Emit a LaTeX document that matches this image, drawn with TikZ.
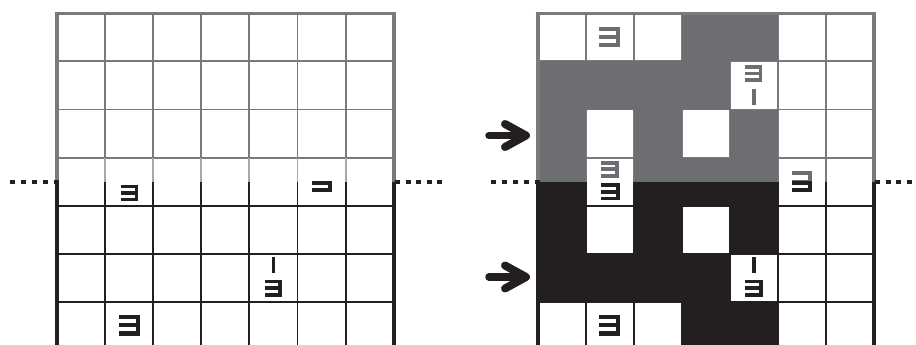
\documentclass[tikz,border=0pt]{standalone}
\definecolor{gfill}{HTML}{6D6E71}
\definecolor{gline}{HTML}{7A7A7A}
\definecolor{glight}{HTML}{A8A8A8}
\definecolor{blk}{HTML}{231F20}
\newcommand{\glyphthree}[6]{%
  \fill[#6] (#1,#2) rectangle ++(#3,#5);
  \fill[#6] (#1,{#2+(#4-#5)/2}) rectangle ++(#3,#5);
  \fill[#6] (#1,{#2+#4-#5}) rectangle ++(#3,#5);
  \fill[#6] ({#1+#3-#5},#2) rectangle ++(#5,#4);}
\newcommand{\glyphone}[5]{\fill[#5] (#1,#2) rectangle ++(#3,#4);}
\newcommand{\foldthree}[2]{%
  \fill[#2] (#1,170.5) rectangle ++(20,4.2);
  \fill[#2] (#1,180.3) rectangle ++(20,4.2);
  \fill[#2] (#1,187.6) rectangle ++(20,4.2);
  \fill[#2] ({#1+15.8},170.5) rectangle ++(4.2,21.3);}
\newcommand{\drawgridlines}[2]{%
  \foreach \kk in {1,2,3} \draw[innerline, gline] (#1,{13.3+\kk*48.1}) -- ++(336.7,0);
  \foreach \kk in {4,5,6} \draw[innerline, blk] (#1,{13.3+\kk*48.1}) -- ++(336.7,0);
  \foreach \cc in {1,...,6} {
    \draw[innerline, gline] ({#1+\cc*48.1},13.3) -- ({#1+\cc*48.1},157.6);
    \draw[innerline, #2] ({#1+\cc*48.1},157.6) -- ({#1+\cc*48.1},181.5);
    \draw[innerline, blk] ({#1+\cc*48.1},181.5) -- ({#1+\cc*48.1},347);
  }}
\newcommand{\drawgridborder}[1]{%
  \draw[outerline, gline, line width=3.4pt] ({#1-2},13.3) -- ({#1+338.7},13.3);
  \draw[outerline, gline] (#1,13.3) -- (#1,181.5);
  \draw[outerline, gline] ({#1+336.7},13.3) -- ({#1+336.7},181.5);
  \draw[outerline, blk] (#1,181.5) -- (#1,347);
  \draw[outerline, blk] ({#1+336.7},181.5) -- ({#1+336.7},347);}
\begin{document}
\begin{tikzpicture}[x=1pt,y=-1pt,
  innerline/.style={line width=1.9pt},
  outerline/.style={line width=4pt},
  foldline/.style={blk, line width=4pt},
  arrowshaft/.style={blk, line width=7.5pt, line cap=round},
  arrowhead/.style={blk, line width=8pt, line cap=round, line join=round}]
\useasboundingbox (0,0) rectangle (916,345);

% ---------- left grid ----------
\drawgridlines{57}{glight}
\drawgridborder{57}

% ---------- right grid ----------
\drawgridlines{537.5}{gline}
\foreach \cc/\rr in {4/1,5/1,1/2,2/2,3/2,4/2,1/3,3/3,5/3}
  \fill[gfill] ({537.5+(\cc-1)*48.1},{13.3+(\rr-1)*48.1}) rectangle ++(48.1,48.1);
\foreach \cc in {1,3,4,5} {
  \fill[gfill] ({537.5+(\cc-1)*48.1},157.6) rectangle ++(48.1,23.9);
  \fill[blk] ({537.5+(\cc-1)*48.1},181.5) rectangle ++(48.1,24.2);
}
\foreach \cc/\rr in {1/5,3/5,5/5,1/6,2/6,3/6,4/6,4/7,5/7}
  \fill[blk] ({537.5+(\cc-1)*48.1},{13.3+(\rr-1)*48.1}) rectangle ++(48.1,48.1);
\drawgridborder{537.5}

% ---------- fold lines ----------
\draw[foldline, dash pattern=on 5pt off 6pt] (59,181.5) -- (9,181.5);
\draw[foldline, dash pattern=on 5pt off 5.5pt] (395,181.5) -- (443,181.5);
\draw[foldline, dash pattern=on 5pt off 6pt] (539.5,181.5) -- (489,181.5);
\draw[foldline, dash pattern=on 5pt off 5.5pt] (875,181.5) -- (913,181.5);

% ---------- glyphs, left grid ----------
\glyphthree{121}{184.8}{17.2}{16.5}{3.6}{blk}
\begin{scope}
  \clip (290,181.5) rectangle (345,200);
  \foldthree{311.8}{blk}
\end{scope}
\glyphone{272}{257}{3.3}{16}{blk}
\glyphthree{265.4}{279.5}{16.5}{17.3}{3.6}{blk}
\glyphthree{119.2}{315}{21}{20.5}{4.4}{blk}

% ---------- glyphs, right grid ----------
\glyphthree{599.2}{26.8}{21}{20.5}{4.4}{gfill}
\glyphthree{745.3}{65}{17}{17}{3.6}{gfill}
\glyphone{752.3}{89}{3.3}{16}{gfill}
\glyphthree{601}{161}{18}{16.5}{3.6}{gfill}
\glyphthree{601}{183.3}{18.5}{17}{3.6}{blk}
\begin{scope}
  \clip (770,160) rectangle (826,181.5);
  \foldthree{792}{gfill}
\end{scope}
\begin{scope}
  \clip (770,181.5) rectangle (826,200);
  \foldthree{792}{blk}
\end{scope}
\glyphone{752.3}{257}{3.3}{16}{blk}
\glyphthree{745.3}{279.5}{17.5}{17.3}{3.6}{blk}
\glyphthree{599.2}{315}{21}{20.5}{4.4}{blk}

% ---------- arrows ----------
\coordinate (arrowAfrom) at (489,135.5);
\coordinate (arrowAto) at (526,135.5);
\coordinate (arrowBfrom) at (489,277);
\coordinate (arrowBto) at (526,277);
\draw[arrowshaft] (arrowAfrom) -- ([xshift=-4pt]arrowAto);
\draw[arrowhead] ([shift={(-21,-11.5)}]arrowAto) -- (arrowAto) -- ([shift={(-21,11.5)}]arrowAto);
\draw[arrowshaft] (arrowBfrom) -- ([xshift=-4pt]arrowBto);
\draw[arrowhead] ([shift={(-21,-11.5)}]arrowBto) -- (arrowBto) -- ([shift={(-21,11.5)}]arrowBto);
\end{tikzpicture}
\end{document}
